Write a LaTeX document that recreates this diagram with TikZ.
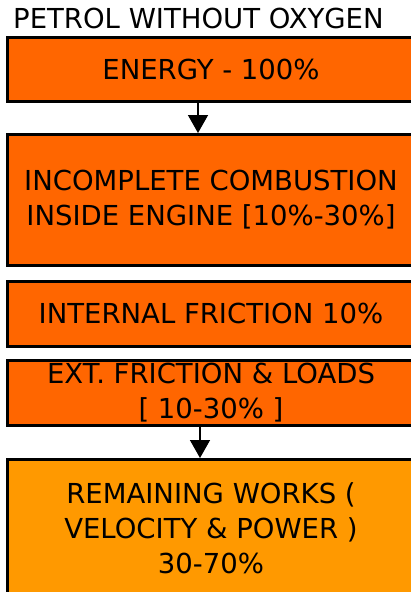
\documentclass[tikz,border=0pt]{standalone}
\usepackage{fontspec}
\setmainfont{DejaVu Sans}
\usetikzlibrary{arrows.meta}
\definecolor{boxorange}{HTML}{FF6600}
\definecolor{lightorange}{HTML}{FF9900}
\begin{document}
\begin{tikzpicture}[x=1pt,y=-1pt,
  flowbox/.style={draw=black, line width=3pt, inner sep=0pt, minimum width=408pt,
    align=center, font=\fontsize{27.5}{35}\selectfont, text=black},
  flowarrow/.style={line width=1.5pt, -{Triangle[width=20pt,length=18pt]}}]
\useasboundingbox (0,0) rectangle (411,592);
\clip (0,0) rectangle (411,592);
\fill[white] (0,0) rectangle (411,592);
\node[anchor=base west, inner sep=0pt, font=\fontsize{27.5}{35}\selectfont] (title) at (13,28) {PETROL WITHOUT OXYGEN};
\node[flowbox, fill=boxorange, minimum height=64.5pt] (b1) at (211,69.25) {ENERGY - 100\%};
\node[flowbox, fill=boxorange, minimum height=131pt] (b2) at (211,200) {INCOMPLETE COMBUSTION\\INSIDE ENGINE [10\%-30\%]};
\node[flowbox, fill=boxorange, minimum height=64.5pt] (b3) at (211,313.75) {INTERNAL FRICTION 10\%};
\node[flowbox, fill=boxorange, minimum height=65pt] (b4) at (211,393) {EXT. FRICTION \& LOADS\\{[} 10-30\% {]}};
\node[flowbox, fill=lightorange, minimum height=137.5pt] (b5) at (211,528.25) {REMAINING WORKS (\\VELOCITY \& POWER )\\30-70\%};
\draw[flowarrow] ([xshift=-13pt]b1.south) -- ([xshift=-13pt]b2.north);
\draw[flowarrow] ([xshift=-11pt]b4.south) -- ([xshift=-11pt]b5.north);
\end{tikzpicture}
\end{document}
